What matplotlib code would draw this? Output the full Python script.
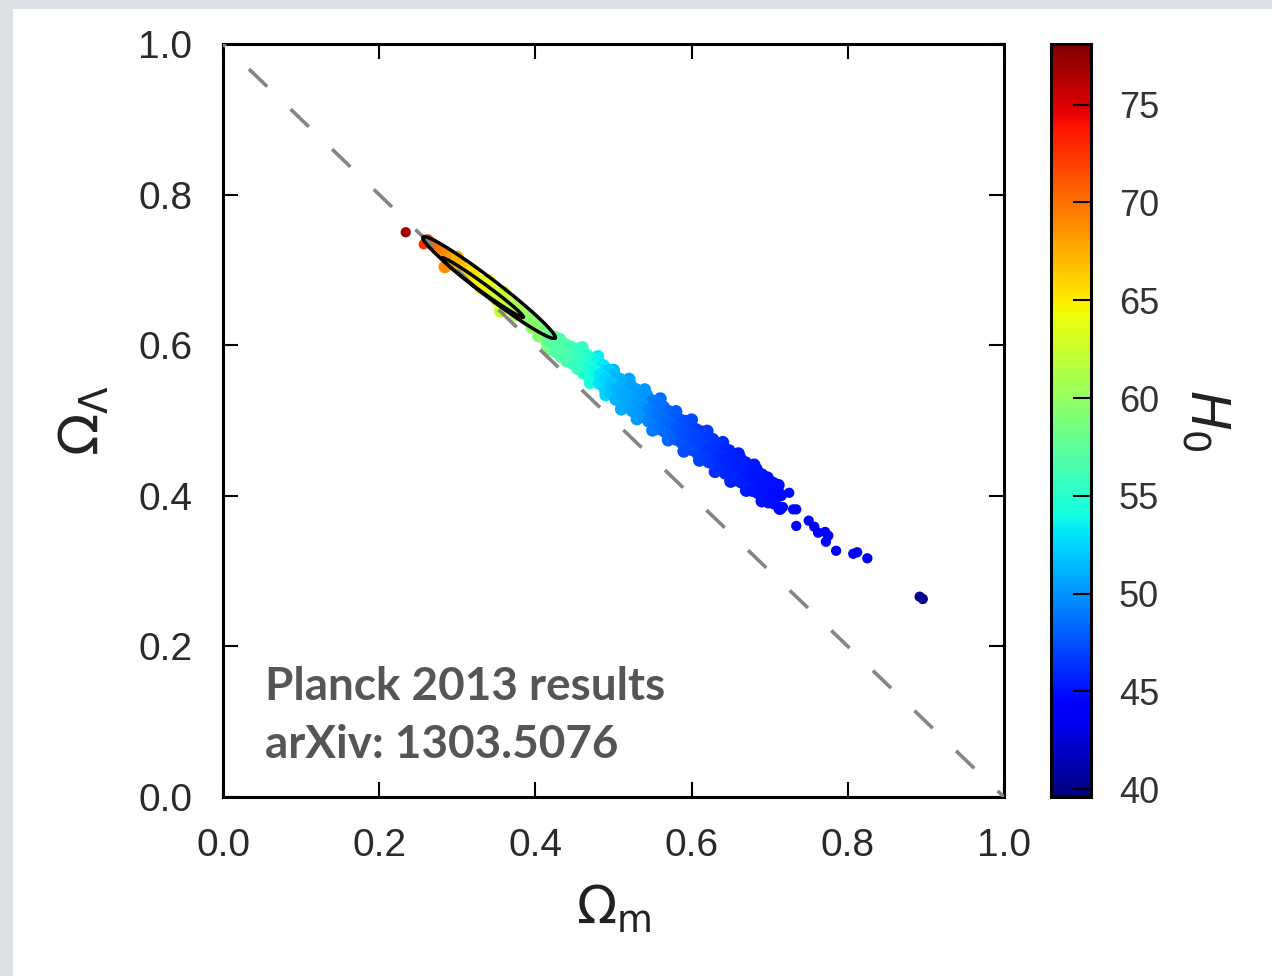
import numpy as np
import matplotlib
matplotlib.use("Agg")
import matplotlib.pyplot as plt
from matplotlib.patches import Rectangle

plt.rcParams['font.family'] = ['Liberation Sans', 'DejaVu Sans']
plt.rcParams['mathtext.fontset'] = 'dejavusans'

# ---------------- data ----------------
# isolated high-H0 points at the upper-left end
tip_om = [0.234, 0.257]
tip_ol = [0.750, 0.734]
tip_h0 = [76.8, 72.8]

# points inside the contour region
ell_om = [0.262, 0.268, 0.274, 0.280, 0.286, 0.284, 0.292, 0.298, 0.304, 0.310,
          0.316, 0.322, 0.328, 0.334, 0.340, 0.346, 0.352, 0.358, 0.364, 0.370,
          0.376, 0.382, 0.388, 0.394, 0.400, 0.406, 0.412, 0.300, 0.320, 0.340,
          0.360, 0.330, 0.350, 0.355, 0.375, 0.395, 0.404, 0.415, 0.415]
ell_ol = [0.739, 0.734, 0.729, 0.725, 0.720, 0.704, 0.715, 0.710, 0.706, 0.700,
          0.696, 0.691, 0.686, 0.681, 0.677, 0.672, 0.667, 0.662, 0.657, 0.653,
          0.648, 0.643, 0.638, 0.633, 0.628, 0.624, 0.618, 0.717, 0.700, 0.686,
          0.670, 0.676, 0.660, 0.645, 0.640, 0.624, 0.612, 0.604, 0.594]
ell_h0 = [71.5, 71.0, 70.3, 69.6, 69.0, 68.8, 68.3, 67.6, 67.0, 66.4,
          65.8, 65.2, 64.7, 64.2, 63.7, 63.2, 62.7, 62.2, 61.8, 61.4,
          61.0, 60.5, 60.1, 59.7, 59.3, 59.0, 58.6, 67.5, 65.5, 63.8,
          62.3, 64.5, 62.8, 62.6, 61.2, 59.8, 59.2, 58.4, 58.5]

# dense band: middle row
mid_om = [0.420, 0.427, 0.434, 0.441, 0.448, 0.455, 0.462, 0.469, 0.476, 0.483,
          0.490, 0.497, 0.504, 0.511, 0.518, 0.525, 0.532, 0.539, 0.546, 0.553,
          0.560, 0.567, 0.574, 0.581, 0.588, 0.595, 0.602, 0.609, 0.616, 0.623,
          0.630, 0.637, 0.644, 0.651, 0.658, 0.665, 0.672, 0.679, 0.686, 0.693,
          0.700, 0.707, 0.714]
mid_ol = [0.604, 0.599, 0.594, 0.590, 0.585, 0.580, 0.575, 0.571, 0.566, 0.561,
          0.556, 0.551, 0.543, 0.538, 0.534, 0.529, 0.524, 0.519, 0.515, 0.510,
          0.505, 0.500, 0.496, 0.491, 0.486, 0.481, 0.477, 0.472, 0.467, 0.462,
          0.458, 0.453, 0.448, 0.443, 0.439, 0.434, 0.429, 0.425, 0.420, 0.415,
          0.410, 0.406, 0.401]
mid_h0 = [57.3, 57.0, 56.8, 56.5, 56.1, 55.7, 55.2, 54.5, 53.8, 53.0,
          52.4, 51.8, 51.2, 51.0, 50.8, 50.5, 50.3, 50.0, 49.3, 49.0,
          48.7, 48.4, 48.1, 47.8, 47.5, 47.3, 47.1, 46.9, 46.7, 46.5,
          46.3, 46.1, 45.9, 45.8, 45.6, 45.5, 45.4, 45.3, 45.2, 45.1,
          45.0, 44.9, 44.8]

# dense band: upper row
up_om = [0.424, 0.431, 0.438, 0.445, 0.452, 0.459, 0.466, 0.473, 0.480, 0.487,
         0.494, 0.501, 0.508, 0.515, 0.522, 0.529, 0.536, 0.543, 0.550, 0.557,
         0.564, 0.571, 0.578, 0.585, 0.592, 0.599, 0.606, 0.613, 0.620, 0.627,
         0.634, 0.641, 0.648, 0.655, 0.662, 0.669, 0.676, 0.683, 0.690, 0.697,
         0.704, 0.711]
up_ol = [0.611, 0.608, 0.601, 0.598, 0.595, 0.590, 0.587, 0.581, 0.578, 0.573,
         0.567, 0.561, 0.555, 0.550, 0.547, 0.541, 0.534, 0.533, 0.526, 0.522,
         0.518, 0.512, 0.508, 0.501, 0.499, 0.494, 0.488, 0.485, 0.477, 0.475,
         0.469, 0.463, 0.460, 0.453, 0.450, 0.444, 0.438, 0.435, 0.428, 0.424,
         0.417, 0.414]
up_h0 = [57.2, 57.0, 56.7, 56.3, 56.0, 55.5, 55.0, 54.3, 53.6, 52.9,
         52.2, 51.6, 51.2, 50.9, 50.7, 50.4, 50.2, 50.0, 49.2, 48.9,
         48.6, 48.3, 48.0, 47.7, 47.4, 47.2, 47.0, 46.8, 46.6, 46.4,
         46.2, 46.0, 45.9, 45.7, 45.6, 45.5, 45.4, 45.3, 45.2, 45.1,
         45.0, 44.9]

# dense band: lower row
low_om = [0.426, 0.433, 0.440, 0.447, 0.454, 0.461, 0.468, 0.475, 0.482, 0.489,
          0.496, 0.503, 0.510, 0.517, 0.524, 0.531, 0.538, 0.545, 0.552, 0.559,
          0.566, 0.573, 0.580, 0.587, 0.594, 0.601, 0.608, 0.615, 0.622, 0.629,
          0.636, 0.643, 0.650, 0.657, 0.664, 0.671, 0.678, 0.685, 0.692, 0.699,
          0.706, 0.713]
low_ol = [0.591, 0.585, 0.579, 0.576, 0.569, 0.563, 0.559, 0.553, 0.549, 0.542,
          0.538, 0.528, 0.524, 0.520, 0.513, 0.508, 0.505, 0.499, 0.496, 0.489,
          0.485, 0.481, 0.475, 0.471, 0.464, 0.461, 0.456, 0.453, 0.445, 0.442,
          0.437, 0.430, 0.428, 0.421, 0.418, 0.415, 0.407, 0.404, 0.397, 0.394,
          0.390, 0.383]
low_h0 = [57.0, 56.8, 56.5, 56.1, 55.7, 55.2, 54.6, 53.9, 53.1, 52.5,
          51.9, 51.3, 51.0, 50.8, 50.5, 50.3, 50.0, 49.4, 49.1, 48.8,
          48.5, 48.2, 47.9, 47.6, 47.4, 47.2, 47.0, 46.8, 46.6, 46.4,
          46.2, 46.0, 45.8, 45.7, 45.6, 45.5, 45.3, 45.2, 45.1, 45.0,
          44.9, 44.8]

# scattered points along the upper and lower edges of the band
edge_om = [0.460, 0.480, 0.500, 0.520, 0.540, 0.560, 0.580, 0.600, 0.620, 0.640,
           0.660, 0.680, 0.470, 0.490, 0.510, 0.530, 0.550, 0.570, 0.590, 0.610,
           0.630, 0.650, 0.670, 0.690]
edge_ol = [0.597, 0.585, 0.567, 0.555, 0.541, 0.529, 0.512, 0.501, 0.486, 0.471,
           0.456, 0.441, 0.550, 0.534, 0.515, 0.502, 0.487, 0.474, 0.459, 0.447,
           0.432, 0.419, 0.407, 0.393]
edge_h0 = [55.4, 53.4, 51.6, 50.7, 50.0, 48.7, 47.8, 47.2, 46.6, 46.0,
           45.6, 45.3, 54.4, 52.4, 51.0, 50.3, 49.1, 48.3, 47.4, 46.9,
           46.3, 45.8, 45.4, 45.1]

# sparse tail at low H0
tail_om = [0.725, 0.717, 0.698, 0.690, 0.649, 0.730, 0.734, 0.734, 0.750, 0.757,
           0.762, 0.771, 0.775, 0.772, 0.785, 0.807, 0.812, 0.825, 0.892, 0.896]
tail_ol = [0.404, 0.385, 0.390, 0.412, 0.421, 0.382, 0.382, 0.360, 0.367, 0.359,
           0.351, 0.352, 0.347, 0.339, 0.327, 0.323, 0.325, 0.317, 0.266, 0.263]
tail_h0 = [44.8, 44.8, 44.9, 45.0, 45.9, 44.7, 44.6, 44.5, 44.4, 44.3,
           44.2, 44.1, 44.0, 44.0, 43.9, 43.7, 43.7, 43.5, 40.4, 40.2]

# 68% and 95% contours: centre, semi-major vector, semi-minor vector (data units)
c95_center, c95_major, c95_minor = (0.3406, 0.6766), (0.0845, -0.0670), (0.0066, 0.0090)
c68_center, c68_major, c68_minor = (0.3323, 0.6767), (0.0519, -0.0392), (0.0031, 0.0042)

h0_range = (39.6, 78.1)
cbar_ticks = [40, 45, 50, 55, 60, 65, 70, 75]
axis_ticks = [0.0, 0.2, 0.4, 0.6, 0.8, 1.0]
flat_line_om = [0.0, 1.0]
flat_line_ol = [1.0, 0.0]
note_lines = ["Planck 2013 results", "arXiv: 1303.5076"]

# ---------------- figure ----------------
W, H = 1272, 976
fig = plt.figure(figsize=(W / 100, H / 100), dpi=100)
fig.patch.set_facecolor('white')
# slide frame (grey strips at top and left)
fig.patches.append(Rectangle((0, 1 - 9 / H), 1, 9 / H, transform=fig.transFigure,
                             facecolor='#dde0e4', edgecolor='none', zorder=0))
fig.patches.append(Rectangle((0, 0), 13 / W, 1, transform=fig.transFigure,
                             facecolor='#dde0e4', edgecolor='none', zorder=0))

ax = fig.add_axes([223 / W, 1 - 797 / H, 781 / W, 753 / H])
cax = fig.add_axes([1051 / W, 1 - 797 / H, 40 / W, 753 / H])

band_om = np.concatenate([ell_om, edge_om, up_om, low_om, mid_om])
band_ol = np.concatenate([ell_ol, edge_ol, up_ol, low_ol, mid_ol])
band_h0 = np.concatenate([ell_h0, edge_h0, up_h0, low_h0, mid_h0])
sparse_om = np.concatenate([tip_om, tail_om])
sparse_ol = np.concatenate([tip_ol, tail_ol])
sparse_h0 = np.concatenate([tip_h0, tail_h0])

norm = plt.Normalize(*h0_range)
sc = ax.scatter(band_om, band_ol, c=band_h0, cmap='jet', norm=norm,
                s=85, edgecolors='none', zorder=2)
ax.scatter(sparse_om, sparse_ol, c=sparse_h0, cmap='jet', norm=norm,
           s=55, edgecolors='none', zorder=2)

ax.plot(flat_line_om, flat_line_ol, color='#858585', lw=2.6,
        linestyle=(6.0, (7.0, 9.0)), zorder=3, solid_capstyle='butt')

t = np.linspace(0, 2 * np.pi, 300)
for cen, maj, mnr in [(c95_center, c95_major, c95_minor), (c68_center, c68_major, c68_minor)]:
    ex = cen[0] + maj[0] * np.cos(t) + mnr[0] * np.sin(t)
    ey = cen[1] + maj[1] * np.cos(t) + mnr[1] * np.sin(t)
    ax.plot(ex, ey, color='black', lw=2.5, zorder=4)

ax.set_xlim(0, 1)
ax.set_ylim(0, 1)
ax.set_xticks(axis_ticks)
ax.set_yticks(axis_ticks)
ax.set_xticklabels([f"{v:.1f}" for v in axis_ticks])
ax.set_yticklabels([f"{v:.1f}" for v in axis_ticks])
ax.tick_params(direction='in', length=11, width=1.5, top=True, right=True,
               labelsize=28, pad=22, labelcolor='#2a2a2a')
for sp in ax.spines.values():
    sp.set_linewidth(2.2)

ax.set_xlabel(r'$\Omega_{\rm m}$', fontsize=38, labelpad=14, color='#222222')
ax.set_ylabel(r'$\Omega_\Lambda$', fontsize=40, labelpad=20, color='#222222')

note_kw = dict(fontsize=33, fontweight='bold', color='#555555',
               family=['Lato', 'DejaVu Sans'], va='baseline', ha='left')
ax.text(0.054, 0.129, note_lines[0], **note_kw)
ax.text(0.054, 0.052, note_lines[1], **note_kw)

cb = fig.colorbar(sc, cax=cax, ticks=cbar_ticks)
cb.outline.set_linewidth(2.2)
cax.tick_params(direction='in', length=13, width=1.5, labelsize=26, pad=20,
                labelcolor='#333333')
cb.set_label(r'$H_0$', rotation=270, fontsize=38, labelpad=52, color='#222222')

fig.savefig('out.png', dpi=100)
